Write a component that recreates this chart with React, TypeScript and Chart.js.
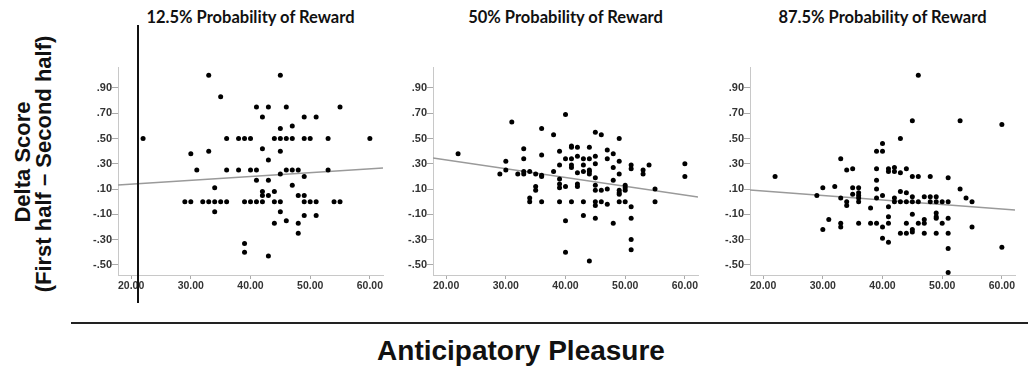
import React, { useEffect, useRef } from "react";
import { Chart, registerables } from "chart.js";

Chart.register(...registerables);

// ---- data ----
const panelTitles = [
  "12.5% Probability of Reward",
  "50% Probability of Reward",
  "87.5% Probability of Reward",
];

const xTicks = [20, 30, 40, 50, 60];
const yTicks = [-0.5, -0.3, -0.1, 0.1, 0.3, 0.5, 0.7, 0.9];
const xRange = [17.8, 62.2];
const yRange = [-0.58, 1.066];

const points125: [number, number][] = [
  [33, 1.0], [45, 1.0], [35, 0.83], [41, 0.75], [43, 0.75], [46, 0.75], [55, 0.75],
  [42, 0.67], [49, 0.67], [51, 0.67], [47, 0.6], [45, 0.58],
  [22, 0.5], [36, 0.5], [38, 0.5], [39, 0.5], [40, 0.5], [44, 0.5], [45, 0.5], [46, 0.5],
  [47, 0.5], [49, 0.5], [50, 0.5], [53, 0.5], [60, 0.5],
  [42, 0.42], [33, 0.4], [45, 0.4], [30, 0.38], [43, 0.33],
  [31, 0.25], [36, 0.25], [38, 0.25], [40, 0.25], [41, 0.25], [46, 0.25], [47, 0.25],
  [48, 0.25], [53, 0.25],
  [45, 0.22], [49, 0.2], [41, 0.17], [43, 0.17], [47, 0.13], [34, 0.11], [42, 0.08],
  [44, 0.08], [42, 0.05], [43, 0.05], [48, 0.05], [49, 0.05],
  [29, 0], [30, 0], [32, 0], [33, 0], [34, 0], [35, 0], [36, 0], [39, 0], [40, 0], [41, 0],
  [42, 0], [44, 0], [45, 0], [49, 0], [50, 0], [51, 0], [54, 0], [55, 0],
  [34, -0.08], [45, -0.08], [49, -0.11], [51, -0.11], [46, -0.15], [44, -0.17], [48, -0.17],
  [48, -0.25], [39, -0.33], [39, -0.4], [43, -0.43],
];

const points50: [number, number][] = [
  [22, 0.38], [29, 0.22], [30, 0.32], [30, 0.25], [31, 0.63], [32, 0.22],
  [33, 0.42], [33, 0.34], [33, 0.24], [33, 0.22], [34, 0.24], [34, 0.03], [34, 0.0],
  [35, 0.22], [35, 0.12], [35, 0.09],
  [36, 0.58], [36, 0.37], [36, 0.21], [36, 0.2], [36, 0.0], [38, 0.53], [38, 0.24],
  [39, 0.4], [39, 0.29], [39, 0.18], [39, 0.14], [39, 0.11], [39, 0.0],
  [40, 0.69], [40, 0.34], [40, 0.12], [40, -0.15], [40, -0.4],
  [41, 0.44], [41, 0.43], [41, 0.34], [41, 0.29], [41, 0.27], [41, 0.0],
  [42, 0.43], [42, 0.36], [42, 0.23], [42, 0.14], [42, 0.12],
  [43, 0.34], [43, 0.29], [43, 0.24], [43, 0.0], [43, -0.11],
  [44, 0.43], [44, 0.34], [44, 0.25], [44, 0.24], [44, 0.22], [44, -0.47],
  [45, 0.55], [45, 0.36], [45, 0.3], [45, 0.19], [45, 0.13], [45, 0.09], [45, 0.0], [45, -0.03], [45, -0.13],
  [46, 0.53], [46, 0.09], [46, 0.0], [47, 0.41], [47, 0.34], [47, 0.1], [47, -0.02],
  [48, 0.38], [48, 0.27], [48, 0.17], [48, -0.17],
  [49, 0.5], [49, 0.32], [49, 0.22], [49, 0.09], [49, 0.07], [49, 0.06], [49, 0.0],
  [50, 0.13], [50, 0.11], [50, 0.09], [50, 0.0],
  [51, 0.29], [51, 0.26], [51, -0.04], [51, -0.13], [51, -0.3], [51, -0.38],
  [53, 0.25], [53, 0.22], [54, 0.29], [55, 0.1], [55, 0.0], [60, 0.3], [60, 0.2],
];

const points875: [number, number][] = [
  [22, 0.2], [29, 0.05], [30, 0.11], [30, -0.22], [31, -0.14], [32, 0.12],
  [33, 0.34], [33, 0.03], [33, -0.17], [33, -0.2], [34, 0.25], [34, 0.0], [34, -0.03],
  [35, 0.26], [35, 0.11], [35, 0.06],
  [36, 0.11], [36, 0.07], [36, 0.05], [36, 0.03], [36, 0.0], [36, -0.17], [38, -0.05], [38, -0.17],
  [39, 0.4], [39, 0.26], [39, 0.17], [39, 0.1], [39, 0.03], [39, -0.17],
  [40, 0.46], [40, 0.4], [40, 0.05], [40, -0.2], [40, -0.29],
  [41, 0.26], [41, 0.24], [41, -0.04], [41, -0.12], [41, -0.17], [41, -0.32],
  [42, 0.27], [42, 0.24], [42, 0.03], [42, 0.0],
  [43, 0.5], [43, 0.23], [43, 0.08], [43, 0.0], [43, -0.25],
  [44, 0.26], [44, 0.07], [44, 0.0], [44, -0.17], [44, -0.25],
  [45, 0.64], [45, 0.2], [45, 0.04], [45, 0.0], [45, -0.1], [45, -0.22], [45, -0.24],
  [46, 1.0], [46, 0.2], [46, 0.0], [46, -0.17],
  [47, 0.04], [47, -0.14], [47, -0.17], [47, -0.25], [48, 0.2], [48, 0.04], [48, 0.0],
  [49, 0.04], [49, 0.0], [49, -0.09], [49, -0.12], [49, -0.13], [49, -0.25],
  [50, 0.0], [50, -0.17],
  [51, 0.19], [51, 0.0], [51, -0.13], [51, -0.25], [51, -0.37], [51, -0.56],
  [53, 0.64], [53, 0.1], [54, 0.03], [55, 0.0], [55, -0.2], [60, 0.61], [60, -0.36],
];

// fitted regression line endpoints (x at axis limits)
const fit125: [number, number][] = [[17.8, 0.133], [62.2, 0.267]];
const fit50: [number, number][] = [[17.8, 0.346], [62.2, 0.037]];
const fit875: [number, number][] = [[17.8, 0.093], [62.2, -0.065]];

const panelPoints = [points125, points50, points875];
const panelFits = [fit125, fit50, fit875];

// ---- layout ----
const PLOT_LEFTS = [118, 433, 750];
const PLOT_W = 265;
const Y_AXIS_W = 40;
const X_AXIS_H = 25;
const CANVAS_TOP = 60;
const PAD_TOP = 7;
const PAD_RIGHT = 6;
const CANVAS_H = 240;

const fmtY = (v: number) => {
  const s = Math.abs(v).toFixed(2).replace(/^0/, "");
  return (v < 0 ? "-" : "") + s;
};

function Panel({ idx }: { idx: number }) {
  const ref = useRef<HTMLCanvasElement | null>(null);
  useEffect(() => {
    if (!ref.current) return;
    const fam = "'Liberation Sans', Arial, sans-serif";
    const chart = new Chart(ref.current, {
      type: "scatter",
      data: {
        datasets: [
          {
            data: panelPoints[idx].map(([x, y]) => ({ x, y })),
            pointRadius: 2.5,
            pointBackgroundColor: "#000",
            pointBorderWidth: 0,
            order: 0,
          },
          {
            data: panelFits[idx].map(([x, y]) => ({ x, y })),
            showLine: true,
            pointRadius: 0,
            borderColor: "#9a9a9a",
            borderWidth: 1.5,
            order: 1,
          },
        ],
      },
      options: {
        animation: false,
        responsive: false,
        maintainAspectRatio: false,
        layout: { padding: { top: PAD_TOP, right: PAD_RIGHT, left: 0, bottom: 0 } },
        plugins: { legend: { display: false }, tooltip: { enabled: false }, title: { display: false } },
        scales: {
          x: {
            type: "linear",
            min: xRange[0],
            max: xRange[1],
            afterBuildTicks: (axis: any) => {
              axis.ticks = xTicks.map((v) => ({ value: v }));
            },
            afterFit: (scale: any) => {
              scale.height = X_AXIS_H;
            },
            ticks: {
              callback: (v: any) => Number(v).toFixed(2),
              font: { family: fam, size: 10.5, weight: "bold" },
              color: "#333",
              padding: 1,
              maxRotation: 0,
              autoSkip: false,
            },
            grid: { display: true, drawOnChartArea: false, drawTicks: true, tickLength: 4, color: "#aaa" },
            border: { display: true, color: "#c8c8c8", width: 1 },
          },
          y: {
            type: "linear",
            min: yRange[0],
            max: yRange[1],
            afterBuildTicks: (axis: any) => {
              axis.ticks = yTicks.map((v) => ({ value: v }));
            },
            afterFit: (scale: any) => {
              scale.width = Y_AXIS_W;
            },
            ticks: {
              callback: (v: any) => fmtY(Number(v)),
              font: { family: fam, size: 11, weight: "bold" },
              color: "#333",
              padding: 0,
              autoSkip: false,
            },
            grid: { display: true, drawOnChartArea: false, drawTicks: true, tickLength: 6, color: "#aaa" },
            border: { display: true, color: "#c8c8c8", width: 1 },
          },
        },
      },
    });
    return () => chart.destroy();
  }, [idx]);
  const w = Y_AXIS_W + PLOT_W + PAD_RIGHT;
  return (
    <canvas
      ref={ref}
      width={w}
      height={CANVAS_H}
      style={{
        position: "absolute",
        left: PLOT_LEFTS[idx] - Y_AXIS_W,
        top: CANVAS_TOP,
        width: w,
        height: CANVAS_H,
      }}
    />
  );
}

export default function App() {
  const titleFont = "Lato, 'Open Sans', sans-serif";
  const arial = "'Liberation Sans', Arial, sans-serif";
  return (
    <div
      style={{
        position: "absolute",
        left: 0,
        top: 0,
        width: 1028,
        height: 372,
        background: "#fff",
        overflow: "hidden",
      }}
    >
      {[0, 1, 2].map((i) => (
        <Panel key={i} idx={i} />
      ))}
      {panelTitles.map((t, i) => (
        <div
          key={t}
          style={{
            position: "absolute",
            left: PLOT_LEFTS[i] + PLOT_W / 2,
            top: 17,
            transform: "translate(-50%, -50%)",
            whiteSpace: "nowrap",
            fontFamily: titleFont,
            fontWeight: 700,
            fontSize: 16.5,
            lineHeight: 1,
            color: "#111",
          }}
        >
          {t}
        </div>
      ))}
      {/* Y-axis title */}
      <div
        style={{
          position: "absolute",
          left: 23,
          top: 162,
          transform: "translate(-50%, -50%) rotate(-90deg)",
          whiteSpace: "nowrap",
          fontFamily: arial,
          fontWeight: 700,
          fontSize: 22,
          lineHeight: 1,
          color: "#111",
        }}
      >
        Delta Score
      </div>
      <div
        style={{
          position: "absolute",
          left: 44,
          top: 164,
          transform: "translate(-50%, -50%) rotate(-90deg)",
          whiteSpace: "nowrap",
          fontFamily: arial,
          fontWeight: 700,
          fontSize: 22,
          lineHeight: 1,
          color: "#111",
        }}
      >
        (First half – Second half)
      </div>
      {/* vertical black line in first panel */}
      <div
        style={{
          position: "absolute",
          left: 137,
          top: 25,
          width: 2,
          height: 278,
          background: "#111",
        }}
      />
      {/* horizontal separator */}
      <div
        style={{
          position: "absolute",
          left: 71,
          top: 322,
          width: 957,
          height: 2,
          background: "#222",
        }}
      />
      <div
        style={{
          position: "absolute",
          left: 521,
          top: 351,
          transform: "translate(-50%, -50%)",
          whiteSpace: "nowrap",
          fontFamily: arial,
          fontWeight: 700,
          fontSize: 28,
          lineHeight: 1,
          color: "#111",
        }}
      >
        Anticipatory Pleasure
      </div>
    </div>
  );
}
